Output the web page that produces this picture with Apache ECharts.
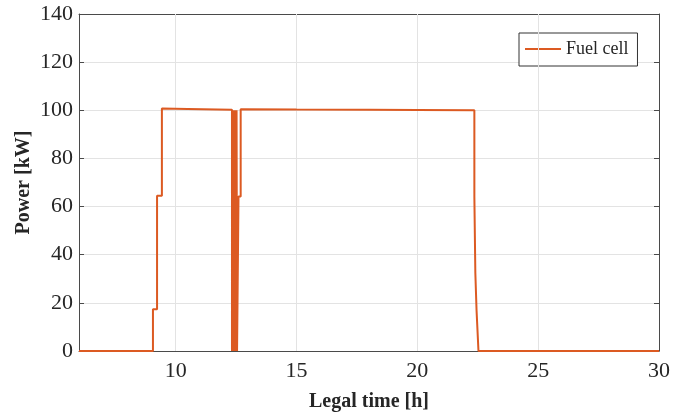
<!DOCTYPE html>
<html>
<head>
<meta charset="utf-8">
<script src="https://cdn.jsdelivr.net/npm/echarts@6/dist/echarts.min.js"></script>
<style>
  html, body { margin: 0; padding: 0; background: #fff; }
  #chart { width: 673px; height: 417px; }
</style>
</head>
<body>
<div id="chart"></div>
<script>
// Fuel cell output power over the day (step profile, hours vs kW)
const hourPoints = [
  6, 9.06, 9.06, 9.23, 9.23, 9.43, 9.43, 10.5, 12.33,
  12.33, 12.36, 12.36, 12.38, 12.38, 12.42, 12.42, 12.44, 12.44,
  12.47, 12.47, 12.49, 12.49, 12.52, 12.52, 12.54, 12.54, 12.60,
  12.60, 12.69, 12.69, 15, 18, 20, 22.36,
  22.36, 22.40, 22.40, 22.45, 22.45, 22.53, 22.53, 30
];
const kwPoints = [
  0, 0, 17.3, 17.3, 64.5, 64.5, 100.7, 100.5, 100.2,
  0, 0, 100, 100, 0, 0, 100, 100, 0,
  0, 100, 100, 0, 0, 100, 100, 0, 0,
  64.2, 64.2, 100.4, 100.3, 100.2, 100.1, 100.0,
  64.2, 64.2, 32.5, 32.5, 17, 17, 0, 0
];
const xTickValues = [10, 15, 20, 25, 30];
const seriesName = 'Fuel cell';

const fontFamily = '"Liberation Serif", "Times New Roman", serif';
const axisColor = '#4a4a4a';
const textColor = '#262626';
const gridColor = '#e3e3e3';
const lineColor = '#DC5A22';

const chart = echarts.init(document.getElementById('chart'), null, { renderer: 'canvas' });

const points = hourPoints.map((h, i) => [h, kwPoints[i]]);

chart.setOption({
  animation: false,
  backgroundColor: '#ffffff',
  grid: { left: 79, right: 13, top: 14, bottom: 65, containLabel: false },
  legend: {
    data: [{ name: seriesName, icon: 'rect' }],
    left: 519,
    top: 33,
    orient: 'vertical',
    itemWidth: 36,
    itemHeight: 2,
    itemGap: 4,
    padding: [7, 9, 8, 6],
    borderColor: '#333',
    borderWidth: 1,
    backgroundColor: '#fff',
    textStyle: { fontFamily, fontSize: 18, color: textColor, padding: [0, 0, 0, 0] }
  },
  xAxis: [
    {
      type: 'value',
      min: 6,
      max: 30,
      name: 'Legal time [h]',
      nameLocation: 'middle',
      nameGap: 41,
      nameTextStyle: { fontFamily, fontSize: 20, fontWeight: 'bold', color: textColor },
      axisLine: { show: true, onZero: false, lineStyle: { color: axisColor, width: 1 } },
      axisTick: { show: true, inside: true, length: 5, customValues: xTickValues, lineStyle: { color: axisColor } },
      axisLabel: { customValues: xTickValues, fontFamily, fontSize: 22, color: textColor, margin: 9 },
      splitLine: { show: false }
    },
    {
      type: 'value',
      min: 6,
      max: 30,
      position: 'top',
      axisLine: { show: true, onZero: false, lineStyle: { color: axisColor, width: 1 } },
      axisTick: { show: true, inside: true, length: 5, customValues: xTickValues, lineStyle: { color: axisColor } },
      axisLabel: { show: false },
      splitLine: { show: false }
    }
  ],
  yAxis: [
    {
      type: 'value',
      min: 0,
      max: 140,
      interval: 20,
      name: 'Power [kW]',
      nameLocation: 'middle',
      nameGap: 45,
      nameMoveOverlap: false,
      nameTextStyle: { fontFamily, fontSize: 20, fontWeight: 'bold', color: textColor },
      axisLine: { show: true, onZero: false, lineStyle: { color: axisColor, width: 1 } },
      axisTick: { show: true, inside: true, length: 5, lineStyle: { color: axisColor } },
      axisLabel: { fontFamily, fontSize: 22, color: textColor, margin: 6 },
      splitLine: { show: true, lineStyle: { color: gridColor, width: 1 } }
    },
    {
      type: 'value',
      min: 0,
      max: 140,
      interval: 20,
      position: 'right',
      axisLine: { show: true, onZero: false, lineStyle: { color: axisColor, width: 1 } },
      axisTick: { show: true, inside: true, length: 5, lineStyle: { color: axisColor } },
      axisLabel: { show: false },
      splitLine: { show: false }
    }
  ],
  series: [
    {
      // vertical grid lines at the labelled hours
      type: 'line',
      xAxisIndex: 0,
      yAxisIndex: 0,
      data: [],
      silent: true,
      markLine: {
        silent: true,
        symbol: 'none',
        label: { show: false },
        lineStyle: { color: gridColor, width: 1, type: 'solid' },
        data: xTickValues.slice(0, -1).map(v => ({ xAxis: v }))
      }
    },
    {
      name: seriesName,
      type: 'line',
      xAxisIndex: 0,
      yAxisIndex: 0,
      data: points,
      symbol: 'none',
      smooth: false,
      lineStyle: { color: lineColor, width: 2 },
      itemStyle: { color: lineColor },
      z: 5
    }
  ]
});
</script>
</body>
</html>
